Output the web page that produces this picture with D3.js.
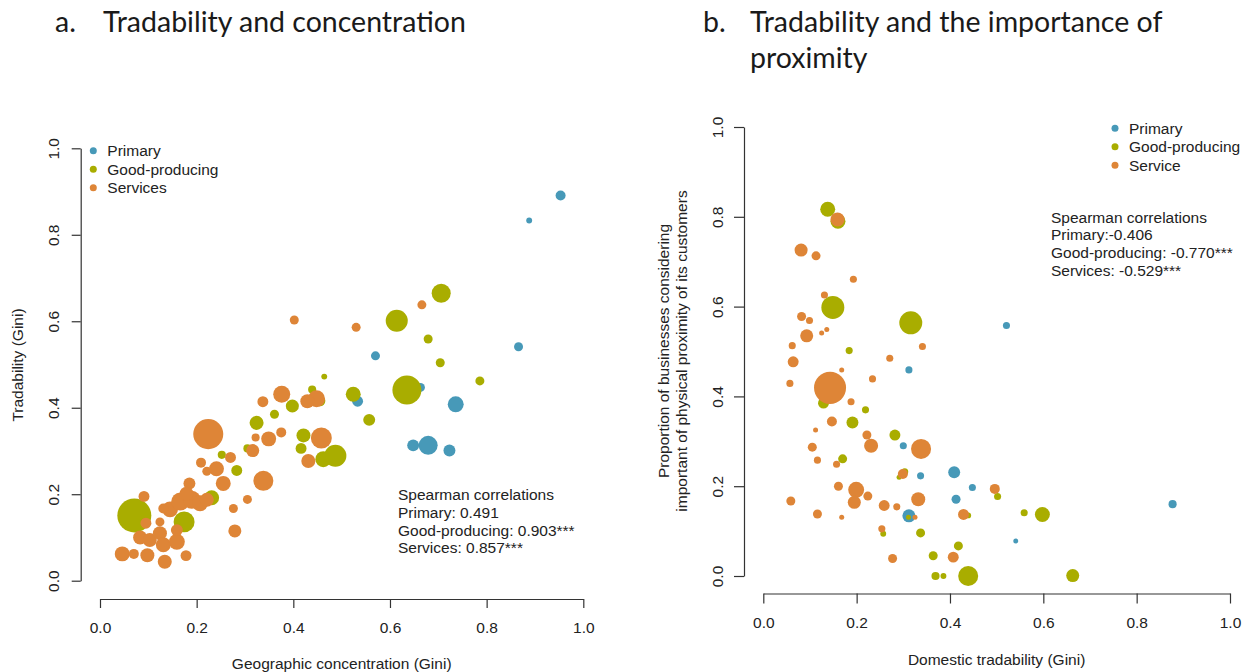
<!DOCTYPE html>
<html>
<head>
<meta charset="utf-8">
<script src="https://cdn.jsdelivr.net/npm/d3@7"></script>
<style>
  body { margin: 0; background: #fff; }
  svg text { font-family: "Liberation Sans", Arial, sans-serif; fill: #222; }
  .title { font-family: "Lato", "Open Sans", sans-serif; font-size: 28.5px; fill: #1a1a1a; }
</style>
</head>
<body>
<svg id="chart" width="1247" height="672"></svg>
<script>
// ticks shared by both panels
var ticks = [0, 0.2, 0.4, 0.6, 0.8, 1.0];
var groups = ["Primary", "Good-producing", "Services"];
var legendB = ["Primary", "Good-producing", "Service"];
var colors = ["#4799b8", "#a9ad00", "#de8537"];
var fontSize = "15.5px";

// panel a: [geographic concentration, tradability, employment weight]
var aPrimary = [
  [0.953, 0.891, 26], [0.888, 0.833, 9], [0.866, 0.541, 21], [0.570, 0.520, 21],
  [0.663, 0.447, 21], [0.533, 0.415, 31], [0.736, 0.408, 66], [0.648, 0.313, 37],
  [0.679, 0.313, 94], [0.723, 0.301, 37]
];
var aGoods = [
  [0.706, 0.665, 94], [0.614, 0.601, 126], [0.679, 0.559, 21], [0.704, 0.504, 21],
  [0.786, 0.462, 21], [0.635, 0.441, 218], [0.464, 0.472, 9], [0.524, 0.431, 58],
  [0.557, 0.372, 37], [0.439, 0.442, 17], [0.455, 0.416, 31], [0.398, 0.404, 44],
  [0.421, 0.336, 51], [0.416, 0.306, 31], [0.462, 0.281, 66], [0.487, 0.289, 126],
  [0.361, 0.385, 21], [0.324, 0.365, 51], [0.305, 0.306, 17], [0.252, 0.291, 17],
  [0.283, 0.255, 31], [0.231, 0.192, 58], [0.071, 0.151, 300], [0.174, 0.136, 114]
];
var aServices = [
  [0.666, 0.638, 21], [0.402, 0.603, 21], [0.530, 0.586, 21], [0.376, 0.431, 75],
  [0.448, 0.421, 75], [0.429, 0.415, 51], [0.458, 0.330, 114], [0.431, 0.277, 51],
  [0.337, 0.414, 31], [0.375, 0.343, 26], [0.322, 0.331, 17], [0.349, 0.328, 58],
  [0.316, 0.301, 44], [0.224, 0.339, 234], [0.270, 0.285, 31], [0.209, 0.273, 26],
  [0.241, 0.259, 58], [0.221, 0.253, 21], [0.255, 0.225, 58], [0.338, 0.231, 104],
  [0.185, 0.225, 37], [0.305, 0.188, 21], [0.276, 0.167, 21], [0.279, 0.115, 44],
  [0.091, 0.195, 31], [0.046, 0.062, 58], [0.070, 0.062, 26], [0.098, 0.059, 51],
  [0.134, 0.044, 51], [0.178, 0.058, 31], [0.083, 0.100, 51], [0.103, 0.094, 51],
  [0.124, 0.110, 51], [0.131, 0.083, 58], [0.159, 0.090, 66], [0.159, 0.117, 37],
  [0.095, 0.133, 31], [0.124, 0.136, 21], [0.145, 0.165, 66], [0.166, 0.183, 84],
  [0.190, 0.187, 84], [0.207, 0.179, 66], [0.221, 0.187, 51], [0.131, 0.167, 26],
  [0.179, 0.201, 51]
];

// panel b: [domestic tradability, share valuing proximity, employment weight]
var bPrimary = [
  [0.312, 0.459, 13], [0.300, 0.290, 13], [0.337, 0.223, 13], [0.409, 0.231, 37],
  [0.413, 0.171, 21], [0.448, 0.197, 13], [0.312, 0.134, 44], [0.877, 0.160, 17],
  [0.541, 0.078, 6.5], [0.521, 0.558, 13]
];
var bGoods = [
  [0.138, 0.817, 58], [0.160, 0.790, 58], [0.149, 0.598, 137], [0.316, 0.564, 137],
  [0.184, 0.502, 13], [0.129, 0.385, 31], [0.219, 0.370, 13], [0.191, 0.342, 37],
  [0.282, 0.314, 31], [0.170, 0.261, 21], [0.303, 0.232, 13], [0.291, 0.220, 6.5],
  [0.311, 0.131, 6.5], [0.439, 0.135, 9], [0.257, 0.094, 9], [0.337, 0.096, 21],
  [0.418, 0.067, 21], [0.364, 0.045, 21], [0.369, 0.000, 17], [0.386, 0.000, 9],
  [0.439, 0.000, 104], [0.502, 0.177, 13], [0.559, 0.141, 13], [0.598, 0.137, 58],
  [0.663, 0.001, 44]
];
var bServices = [
  [0.159, 0.794, 51], [0.081, 0.726, 44], [0.113, 0.713, 21], [0.193, 0.661, 13],
  [0.131, 0.626, 13], [0.082, 0.578, 21], [0.099, 0.569, 13], [0.093, 0.535, 44],
  [0.125, 0.541, 6.5], [0.136, 0.549, 6.5], [0.062, 0.513, 13], [0.341, 0.511, 13],
  [0.271, 0.485, 13], [0.064, 0.477, 31], [0.168, 0.459, 6.5], [0.234, 0.439, 13],
  [0.057, 0.429, 13], [0.143, 0.419, 266], [0.188, 0.388, 13], [0.147, 0.344, 26],
  [0.112, 0.325, 6.5], [0.222, 0.314, 21], [0.231, 0.290, 51], [0.338, 0.283, 104],
  [0.105, 0.287, 21], [0.116, 0.258, 13], [0.157, 0.249, 13], [0.299, 0.227, 26],
  [0.161, 0.200, 21], [0.199, 0.192, 66], [0.224, 0.178, 21], [0.195, 0.164, 44],
  [0.059, 0.167, 21], [0.332, 0.171, 51], [0.259, 0.157, 31], [0.286, 0.154, 13],
  [0.116, 0.138, 21], [0.168, 0.131, 6.5], [0.325, 0.131, 6.5], [0.429, 0.137, 31],
  [0.254, 0.105, 13], [0.277, 0.039, 21], [0.407, 0.042, 31], [0.496, 0.194, 26]
];

var statsA = ["Spearman correlations", "Primary: 0.491", "Good-producing: 0.903***", "Services: 0.857***"];
var statsB = ["Spearman correlations", "Primary:-0.406", "Good-producing: -0.770***", "Services: -0.529***"];

var svg = d3.select("#chart");

// bubble size from employment weight
var rScale = d3.scaleSqrt().domain([0, 300]).range([0, 17]);

function drawPanel(p) {
  var x = d3.scaleLinear().domain([0, 1]).range(p.xRange);
  var y = d3.scaleLinear().domain([0, 1]).range(p.yRange);
  var g = svg.append("g");

  // x axis, R style (detached from the plot region)
  var xAxis = g.append("g")
    .attr("transform", `translate(0, ${p.xAxisY})`)
    .call(d3.axisBottom(x).tickValues(ticks).tickFormat(d3.format(".1f"))
      .tickSize(p.tick).tickSizeOuter(0).tickPadding(p.xPad));
  // y axis
  var yAxis = g.append("g")
    .attr("transform", `translate(${p.yAxisX}, 0)`)
    .call(d3.axisLeft(y).tickValues(ticks).tickFormat(d3.format(".1f"))
      .tickSize(p.tick).tickSizeOuter(0));
  yAxis.selectAll("text")
    .attr("x", null).attr("dy", null)
    .attr("text-anchor", "middle")
    .attr("transform", `translate(${p.yLabOff}, 0) rotate(-90)`);

  [xAxis, yAxis].forEach(function(a) {
    a.selectAll("path, line").attr("stroke", "#333").attr("stroke-width", 1.2);
    a.selectAll("text").attr("font-size", fontSize).attr("fill", "#222")
      .attr("font-family", "Liberation Sans, Arial, sans-serif");
  });

  // bubbles: primary first, then goods, then services on top
  p.series.forEach(function(s, i) {
    g.append("g").selectAll("circle")
      .data(s)
      .enter()
      .append("circle")
      .attr("cx", d => x(d[0]))
      .attr("cy", d => y(d[1]))
      .attr("r", d => rScale(d[2]))
      .attr("fill", colors[i]);
  });

  // legend
  p.legend.forEach(function(name, i) {
    g.append("circle")
      .attr("cx", p.legX).attr("cy", p.legY + i * 18.5)
      .attr("r", 3.5).attr("fill", colors[i]);
    g.append("text")
      .attr("x", p.legX + 14).attr("y", p.legY + i * 18.5 + 5.5)
      .attr("font-size", fontSize)
      .text(name);
  });

  // correlation note
  p.stats.forEach(function(line, i) {
    g.append("text")
      .attr("x", p.statX).attr("y", p.statY + i * 17.8)
      .attr("font-size", fontSize)
      .text(line);
  });

  // axis titles
  g.append("text")
    .attr("x", p.xTitle[0]).attr("y", p.xTitle[1])
    .attr("text-anchor", "middle")
    .attr("font-size", fontSize)
    .text(p.xLabel);

  p.yLabel.forEach(function(line, i) {
    g.append("text")
      .attr("transform", `translate(${p.yTitle[i]}, ${p.yTitleY}) rotate(-90)`)
      .attr("text-anchor", "middle")
      .attr("font-size", fontSize)
      .text(line);
  });
}

drawPanel({
  xRange: [100, 583.3], yRange: [580.7, 148.3],
  xAxisY: 599, yAxisX: 80.7, tick: 9, xPad: 13.5, yLabOff: -21.8,
  series: [aPrimary, aGoods, aServices],
  legend: groups, legX: 93.3, legY: 150.7,
  stats: statsA, statX: 398, statY: 500,
  xLabel: "Geographic concentration (Gini)", xTitle: [341.7, 668.5],
  yLabel: ["Tradability (Gini)"], yTitle: [22.5], yTitleY: 365
});

drawPanel({
  xRange: [763.3, 1230], yRange: [576, 127],
  xAxisY: 593.5, yAxisX: 744, tick: 10, xPad: 13, yLabOff: -21.1,
  series: [bPrimary, bGoods, bServices],
  legend: legendB, legX: 1115, legY: 128.3,
  stats: statsB, statX: 1051, statY: 222.5,
  xLabel: "Domestic tradability (Gini)", xTitle: [996.6, 664.5],
  yLabel: ["Proportion of businesses considering", "important of physical proximity of its customers"],
  yTitle: [668.5, 686.5], yTitleY: 351
});

// panel titles
svg.append("text").attr("class", "title").attr("x", 55).attr("y", 32).text("a.");
svg.append("text").attr("class", "title").attr("x", 103).attr("y", 32).text("Tradability and concentration");
svg.append("text").attr("class", "title").attr("x", 703).attr("y", 32).text("b.");
svg.append("text").attr("class", "title").attr("x", 750).attr("y", 32).text("Tradability and the importance of");
svg.append("text").attr("class", "title").attr("x", 750).attr("y", 68).text("proximity");
</script>
</body>
</html>
